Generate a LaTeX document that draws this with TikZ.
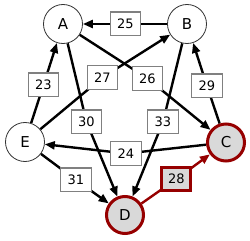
\documentclass[tikz,border=0pt]{standalone}
\usepackage{fontspec}
\setmainfont{DejaVu Sans}
\usetikzlibrary{arrows.meta,backgrounds}
\definecolor{dred}{RGB}{150,0,0}
\definecolor{lgray}{RGB}{217,217,217}
\begin{document}
\begin{tikzpicture}[x=1pt,y=-1pt,
 vtx/.style={circle,draw=black!80,line width=0.8pt,fill=white,minimum size=39pt,inner sep=0pt,font=\fontsize{15}{15}\selectfont},
 hot/.style={vtx,draw=dred,line width=3pt,fill=lgray,minimum size=37pt},
 lbl/.style={draw=gray,line width=1.3pt,fill=white,minimum width=30.5pt,minimum height=23.7pt,inner sep=0pt,font=\fontsize{13}{13}\selectfont},
 hotlbl/.style={lbl,draw=dred,line width=3pt,fill=lgray,minimum width=29pt,minimum height=22.5pt},
 edge/.style={line width=2.4pt,-{Triangle[length=10pt,width=8pt]}},
 hotedge/.style={edge,draw=dred}
]
\useasboundingbox (0,0) rectangle (250,241);
\node[vtx] (A) at (63,24) {A};
\node[vtx] (B) at (187,24) {B};
\node[vtx] (E) at (25,142) {E};
\node[hot] (C) at (226,142.5) {C};
\node[hot] (D) at (125,215) {D};

\node[lbl] (l25) at (125.5,24) {25};
\node[lbl] (l23) at (43.5,85) {23};
\node[lbl] (l27) at (102.5,77.5) {27};
\node[lbl] (l26) at (147.5,78.5) {26};
\node[lbl] (l29) at (207,86) {29};
\node[lbl] (l30) at (86.5,122) {30};
\node[lbl] (l33) at (163,122) {33};
\node[lbl] (l24) at (126,153.5) {24};
\node[lbl] (l31) at (76,180) {31};
\node[hotlbl] (l28) at (176.5,179) {28};

\begin{scope}[on background layer]
\draw[edge] (B) -- (l25.center) -- (A);
\draw[edge] (E) -- (l23.center) -- (A);
\draw[edge] (E) -- (l27.center) -- (B);
\draw[edge] (A) -- (l26.center) -- (C);
\draw[edge] (C) -- (l29.center) -- (B);
\draw[edge] (A) -- (l30.center) -- (D);
\draw[edge] (B) -- (l33.center) -- (D);
\draw[edge] (C) -- (l24.center) -- (E);
\draw[edge] (E) -- (l31.center) -- (D);
\draw[hotedge] (D) -- (l28.center) -- (C);
\end{scope}
\end{tikzpicture}
\end{document}
